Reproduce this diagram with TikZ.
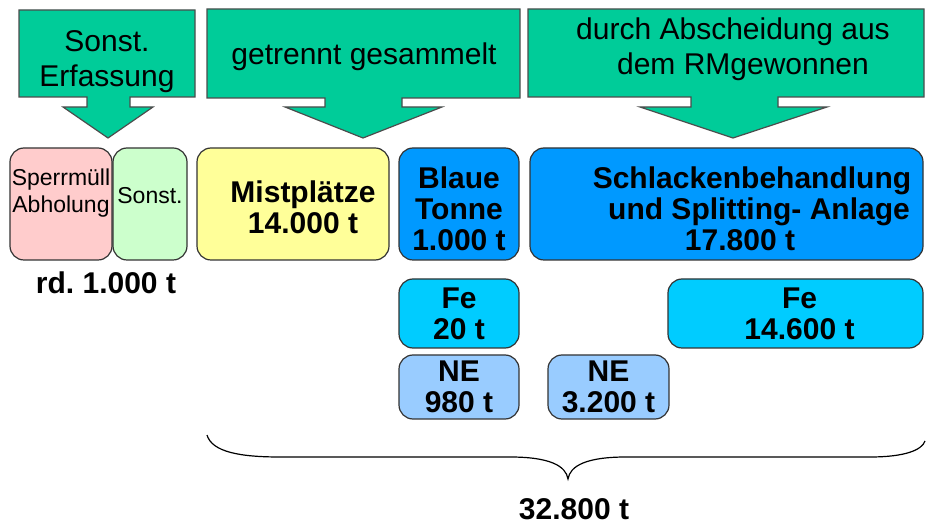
\documentclass[tikz,border=0pt]{standalone}
\usepackage{fontspec}
\setmainfont{Liberation Sans}
\definecolor{pfeilgruen}{HTML}{00CC99}
\definecolor{rosa}{HTML}{FFCCCC}
\definecolor{hellgruen}{HTML}{CCFFCC}
\definecolor{gelb}{HTML}{FFFF99}
\definecolor{mittelblau}{HTML}{0099FF}
\definecolor{tuerkis}{HTML}{00CCFF}
\definecolor{hellblau}{HTML}{99CCFF}
\newcommand\gross{\fontsize{15}{17.5}\selectfont}
\newcommand\fett{\fontsize{15}{15.5}\selectfont\bfseries}
\newcommand\klein{\fontsize{11.5}{13.5}\selectfont}
\tikzset{
  kasten/.style={draw=black!80, line width=0.6pt, rounded corners=7pt,
    inner sep=0pt, align=center, font=\fett},
  pfeil/.style={draw=black!70, fill=pfeilgruen, line width=0.6pt},
}
\begin{document}
\begin{tikzpicture}[x=0.5pt,y=-0.5pt]
\useasboundingbox (0,0) rectangle (926,523);
% Blockpfeile oben
\draw[pfeil] (19,10) -- (195,10) -- (195,97) -- (130,97) -- (130,107) -- (153,107)
  -- (108,138) -- (63,107) -- (87,107) -- (87,97) -- (19,97) -- cycle;
\draw[pfeil] (207,9) -- (520,9) -- (520,98) -- (402,98) -- (402,107) -- (442,107)
  -- (363,138) -- (285,107) -- (325,107) -- (325,98) -- (207,98) -- cycle;
\draw[pfeil] (528,9) -- (924,9) -- (924,97) -- (778,97) -- (778,107) -- (827,107)
  -- (733,138) -- (640,107) -- (691,107) -- (691,97) -- (528,97) -- cycle;
\node[font=\gross, align=center] (erfassung) at (107,62) {Sonst.\\Erfassung};
\node[font=\gross] (getrennt) at (364,57) {getrennt gesammelt};
\node[font=\gross, align=center] (abscheidung) at (733,49)
  {durch Abscheidung aus\\\hspace*{10pt}dem RMgewonnen};
% Mengen
\node[kasten, fill=rosa, font=\klein, minimum width=51pt, minimum height=56pt,
  text depth=13.4pt] (sperr) at (61,204) {Sperrmüll\\Abholung};
\node[kasten, fill=hellgruen, font=\klein, minimum width=37pt, minimum height=56pt,
  text depth=9pt] (sonst) at (150,204) {Sonst.};
\node[kasten, fill=gelb, minimum width=96pt, minimum height=56pt, text height=29.5pt]
  (mist) at (293,204) {\hspace*{10pt}Mistplätze\\\hspace*{10pt}14.000 t};
\node[kasten, fill=mittelblau, minimum width=60pt, minimum height=56pt, text height=47pt]
  (blau) at (459,204) {Blaue\\Tonne\\1.000 t};
\node[kasten, fill=mittelblau, minimum width=196.5pt, minimum height=56pt, text height=47pt]
  (schlacke) at (726.5,204)
  {\hspace*{25.5pt}Schlackenbehandlung\\\hspace*{32.5pt}und Splitting- Anlage\\\hspace*{13.5pt}17.800 t};
\node[kasten, fill=tuerkis, minimum width=60pt, minimum height=34.5pt]
  (fe1) at (459,313.5) {Fe\\20 t};
\node[kasten, fill=hellblau, minimum width=60pt, minimum height=32pt]
  (ne1) at (459,387) {NE\\980 t};
\node[kasten, fill=hellblau, minimum width=60.5pt, minimum height=32pt]
  (ne2) at (608.5,387) {NE\\3.200 t};
\node[kasten, fill=tuerkis, minimum width=127.5pt, minimum height=34.5pt]
  (fe2) at (795.5,313.5) {\hspace*{4pt}Fe\\\hspace*{4pt}14.600 t};
\node[font=\fett] (rd) at (106,283) {rd.\ 1.000 t};
% Klammer und Summe
\draw[line width=0.6pt] (207,435) .. controls (212,452) and (240,457) .. (280,457)
  -- (510,457) .. controls (550,457) and (566,466) .. (568,479)
  .. controls (570,466) and (586,457) .. (626,457)
  -- (870,457) .. controls (905,457) and (922,450) .. (925,441);
\node[font=\fett] (summe) at (574,509) {32.800 t};
\end{tikzpicture}
\end{document}
